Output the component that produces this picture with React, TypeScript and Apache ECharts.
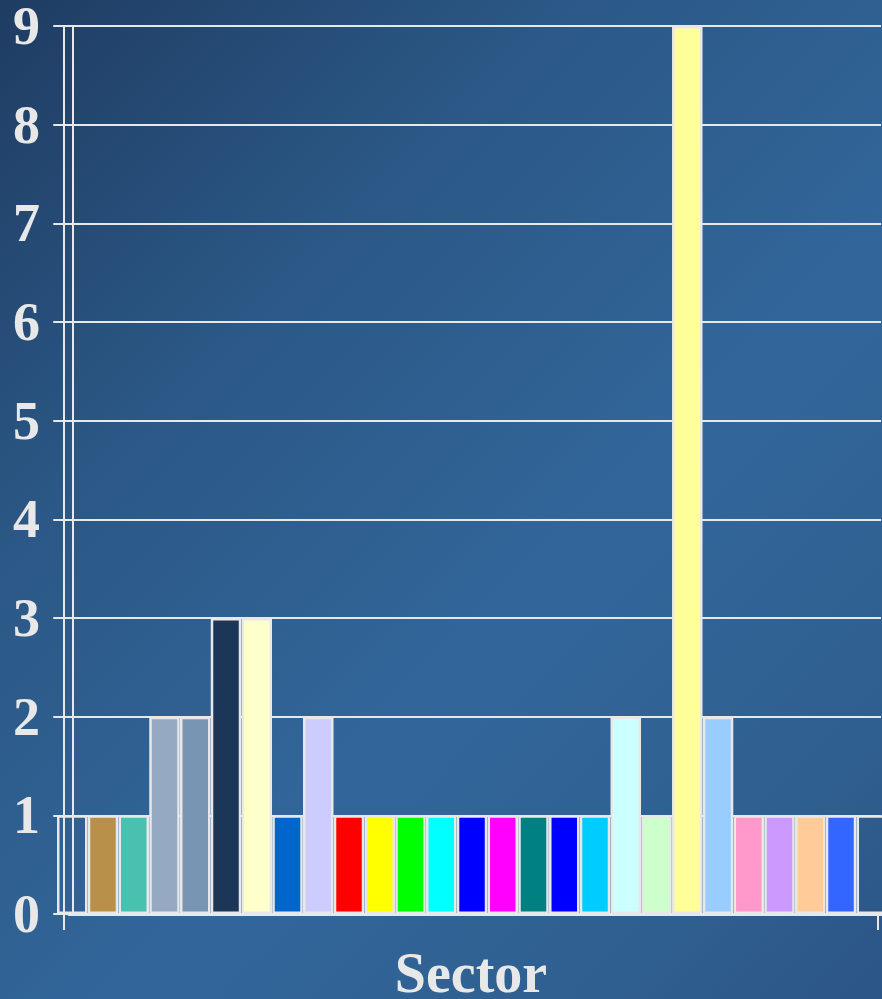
import React, { useEffect, useRef } from "react";
import * as echarts from "echarts";

const categories: string[] = [
  "S00", "S01", "S02", "S03", "S04", "S05", "S06", "S07", "S08", "S09",
  "S10", "S11", "S12", "S13", "S14", "S15", "S16", "S17", "S18", "S19",
  "S20", "S21", "S22", "S23", "S24", "S25", "S26",
];
const values: number[] = [
  1, 1, 1, 2, 2, 3, 3, 1, 2, 1,
  1, 1, 1, 1, 1, 1, 1, 1, 2, 1,
  9, 2, 1, 1, 1, 1, 1,
];
const barColors: string[] = [
  "transparent", "#b8904a", "#48c1b0", "#95aac2", "#7896b4", "#1c3657", "#ffffcc", "#0066cc", "#ccccff", "#ff0000",
  "#ffff00", "#00ff00", "#00ffff", "#0000ff", "#ff00ff", "#008080", "#0000ff", "#00ccff", "#ccffff", "#ccffcc",
  "#ffff99", "#99ccff", "#ff99cc", "#cc99ff", "#ffcc99", "#3366ff", "transparent",
];
const yTicks: number[] = [0, 1, 2, 3, 4, 5, 6, 7, 8, 9];

const LIGHT = "#e8e8e8";
const FONT = "'Liberation Serif', 'Times New Roman', serif";

export default function App() {
  const ref = useRef<HTMLDivElement>(null);
  useEffect(() => {
    if (!ref.current) return;
    const chart = echarts.init(ref.current, null, { renderer: "svg" });
    const option: any = {
      animation: false,
      backgroundColor: "transparent",
      grid: [
        { left: 69, right: 1, top: 26, bottom: 85, outerBoundsMode: "none", containLabel: false },
        { left: 64, right: 4, top: 26, bottom: 85, outerBoundsMode: "none", containLabel: false },
      ],
      xAxis: [
        {
          type: "value",
          gridIndex: 0,
          min: -0.106,
          max: 26.3,
          axisLine: { show: true, lineStyle: { color: LIGHT, width: 3 } },
          axisTick: { show: false },
          axisLabel: { show: false },
          splitLine: { show: false },
        },
        {
          type: "value",
          gridIndex: 1,
          min: 0,
          max: 1,
          interval: 1,
          axisLine: { show: false },
          axisTick: { show: true, length: 16, lineStyle: { color: LIGHT, width: 2 } },
          axisLabel: { show: false },
          splitLine: { show: false },
          name: "Sector",
          nameLocation: "middle",
          nameGap: 34,
          nameTextStyle: { color: LIGHT, fontFamily: FONT, fontWeight: "bold", fontSize: 56, lineHeight: 50 },
        },
      ],
      yAxis: [
        {
          type: "value",
          gridIndex: 0,
          min: yTicks[0],
          max: yTicks[yTicks.length - 1],
          interval: 1,
          axisLine: { show: true, lineStyle: { color: LIGHT, width: 2 } },
          axisTick: { show: true, length: 19, lineStyle: { color: LIGHT, width: 2 } },
          axisLabel: {
            color: LIGHT,
            fontFamily: FONT,
            fontWeight: "bold",
            fontSize: 54,
            lineHeight: 44,
            margin: 29,
          },
          splitLine: { show: true, lineStyle: { color: LIGHT, width: 2 } },
        },
        {
          type: "value",
          gridIndex: 1,
          min: yTicks[0],
          max: yTicks[yTicks.length - 1],
          interval: 1,
          axisLine: { show: true, lineStyle: { color: LIGHT, width: 2 } },
          axisTick: { show: false },
          axisLabel: { show: false },
          splitLine: { show: false },
        },
      ],
      series: [
        {
          type: "bar",
          xAxisIndex: 0,
          yAxisIndex: 0,
          barWidth: 30.5,
          clip: true,
          data: values.map((v, i) => ({
            name: categories[i],
            value: [i, v],
            itemStyle: { color: barColors[i], borderColor: LIGHT, borderWidth: 2.5 },
          })),
        },
      ],
    };
    chart.setOption(option);
    return () => chart.dispose();
  }, []);
  return (
    <div
      style={{
        position: "absolute",
        left: 0,
        top: 0,
        width: 882,
        height: 999,
        background:
          "linear-gradient(135deg, #1f3c62 0%, #2b5886 30%, #32669a 60%, #2f5f90 85%, #2b5585 100%)",
      }}
    >
      <div ref={ref} style={{ width: 882, height: 999 }} />
    </div>
  );
}
